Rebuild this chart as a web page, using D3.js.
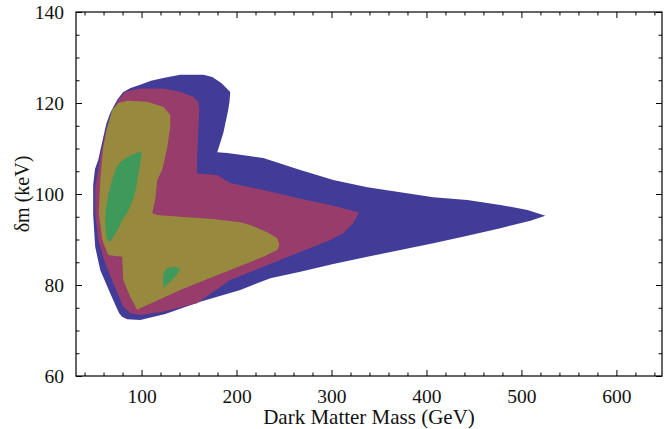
<!DOCTYPE html>
<html><head><meta charset="utf-8">
<script src="https://cdn.jsdelivr.net/npm/d3@7"></script>
<style>body{margin:0;background:#fff}svg{display:block}</style>
</head><body>
<svg id="c" width="664" height="429"></svg>
<script>
// Data (Dark Matter Mass in GeV, δm in keV)
const xDomain = [31, 648];
const yDomain = [60, 140];
const xMajorTicks = [100, 200, 300, 400, 500, 600];
const yMajorTicks = [60, 80, 100, 120, 140];

const blueRegion = [[80.7,122.4],[88.5,123.3],[98.6,124.0],[110.0,124.9],[122.9,125.5],[140.8,126.2],[165.0,126.2],[174.5,125.7],[184.0,124.4],[193.4,122.4],[192.6,120.3],[191.3,118.5],[186.1,113.4],[179.7,109.2],[190.3,109.0],[204.0,108.6],[228.2,107.9],[267.2,105.3],[301.9,103.1],[337.8,101.5],[372.5,100.4],[407.2,99.3],[443.1,98.7],[477.8,97.6],[506.3,96.5],[525.2,95.2],[509.4,94.1],[477.8,92.5],[443.1,90.8],[407.2,89.2],[372.5,87.7],[337.8,86.2],[301.9,84.6],[267.2,82.9],[235.6,81.5],[204.0,78.9],[161.8,76.3],[125.0,73.6],[98.6,72.3],[84.9,72.5],[79.5,73.0],[76.5,73.8],[72.0,75.8],[67.0,78.2],[56.5,83.3],[51.2,88.4],[49.1,95.4],[49.1,102.0],[51.0,105.5],[54.4,107.5],[59.7,112.5],[63.0,115.5],[67.0,117.8],[74.4,120.7]];

const magentaRegion = [[82.8,122.5],[98.6,123.2],[122.9,123.2],[140.8,122.5],[154.5,121.4],[159.7,120.3],[160.8,118.5],[160.0,114.8],[158.4,107.5],[158.4,104.5],[179.4,104.2],[193.4,102.4],[228.2,100.9],[264.0,99.1],[298.8,97.6],[328.3,96.0],[328.3,95.6],[323.0,93.6],[312.5,91.4],[298.8,89.9],[264.0,87.0],[228.2,84.0],[193.4,81.1],[158.4,76.0],[122.9,74.1],[98.6,73.4],[88.1,73.8],[80.7,75.2],[70.2,80.4],[61.8,84.8],[54.4,89.9],[51.2,95.8],[51.2,101.5],[56.5,108.1],[61.8,113.4],[69.1,117.8],[75.5,120.7]];

const oliveRegion = [[75.5,120.0],[85.0,120.5],[106.0,120.3],[122.9,119.2],[130.2,117.4],[130.2,114.7],[127.1,110.3],[121.8,105.3],[116.5,103.1],[114.4,98.7],[111.3,95.8],[116.5,95.4],[140.8,95.0],[175.5,94.5],[204.0,93.8],[214.5,93.2],[232.4,91.6],[243.0,90.3],[245.1,88.8],[243.0,87.7],[228.2,86.2],[211.3,84.8],[193.4,83.3],[175.5,81.8],[140.8,78.9],[98.6,74.9],[95.5,74.5],[88.1,77.4],[80.7,81.1],[79.7,86.2],[72.3,86.4],[64.9,86.6],[58.6,89.9],[54.9,95.8],[56.5,103.1],[59.7,110.3],[63.9,114.7],[69.1,118.5]];

const greenUpper = [[100.2,109.3],[94.4,109.0],[84.9,108.1],[77.6,107.0],[73.4,105.7],[69.1,103.1],[64.9,99.8],[62.3,96.5],[61.8,93.2],[62.8,90.8],[64.9,89.6],[68.1,89.7],[73.4,91.6],[78.6,93.8],[86.0,96.3],[91.3,98.9],[94.4,101.5],[97.1,104.8],[99.2,107.5]];

const greenLower = [[126.8,83.7],[135.5,84.0],[140.8,83.5],[135.5,81.8],[128.4,80.4],[123.2,79.3],[122.6,81.8],[124.0,82.9]];

const regions = [
  {pts: blueRegion, color: "#403c98"},
  {pts: magentaRegion, color: "#973c6b"},
  {pts: oliveRegion, color: "#97893d"},
  {pts: greenUpper, color: "#3d9a5a"},
  {pts: greenLower, color: "#3d9a5a"}
];

const L = 76, R = 662, T = 12, B = 376;
const svg = d3.select("#c");
const x = d3.scaleLinear().domain(xDomain).range([L, R]);
const y = d3.scaleLinear().domain(yDomain).range([B, T]);

const line = d3.line().x(d => x(d[0])).y(d => y(d[1])).curve(d3.curveLinearClosed);
svg.append("g").selectAll("path").data(regions).join("path")
  .attr("d", d => line(d.pts)).attr("fill", d => d.color).attr("stroke", "none");

const xMinor = d3.range(40, 648, 20).filter(v => !xMajorTicks.includes(v));
const yMinor = d3.range(65, 140, 5).filter(v => !yMajorTicks.includes(v));

const font = "'Liberation Serif', 'Times New Roman', serif";

function axisStyle(g){ g.select(".domain").remove(); g.selectAll("line").attr("stroke","#000"); }

// bottom
svg.append("g").attr("transform",`translate(0,${B})`)
  .call(d3.axisBottom(x).tickValues(xMajorTicks).tickSize(-6).tickPadding(13).tickFormat(d3.format("d")))
  .call(axisStyle).call(g=>g.selectAll("text").attr("font-family",font).attr("font-size",19.5).attr("fill","#111"));
svg.append("g").attr("transform",`translate(0,${B})`)
  .call(d3.axisBottom(x).tickValues(xMinor).tickSize(-3.5).tickFormat(""))
  .call(axisStyle);
// top
svg.append("g").attr("transform",`translate(0,${T})`)
  .call(d3.axisTop(x).tickValues(xMajorTicks).tickSize(-6).tickFormat(""))
  .call(axisStyle);
svg.append("g").attr("transform",`translate(0,${T})`)
  .call(d3.axisTop(x).tickValues(xMinor).tickSize(-3.5).tickFormat(""))
  .call(axisStyle);
// left
svg.append("g").attr("transform",`translate(${L},0)`)
  .call(d3.axisLeft(y).tickValues(yMajorTicks).tickSize(-6).tickPadding(12).tickFormat(d3.format("d")))
  .call(axisStyle).call(g=>g.selectAll("text").attr("font-family",font).attr("font-size",19.5).attr("fill","#111"));
svg.append("g").attr("transform",`translate(${L},0)`)
  .call(d3.axisLeft(y).tickValues(yMinor).tickSize(-3.5).tickFormat(""))
  .call(axisStyle);
// right
svg.append("g").attr("transform",`translate(${R},0)`)
  .call(d3.axisRight(y).tickValues(yMajorTicks).tickSize(-6).tickFormat(""))
  .call(axisStyle);
svg.append("g").attr("transform",`translate(${R},0)`)
  .call(d3.axisRight(y).tickValues(yMinor).tickSize(-3.5).tickFormat(""))
  .call(axisStyle);

// frame
svg.append("rect").attr("x",L).attr("y",T).attr("width",R-L).attr("height",B-T)
  .attr("fill","none").attr("stroke","#000").attr("stroke-width",1.2);

// titles
svg.append("text").attr("x",(L+R)/2).attr("y",424).attr("text-anchor","middle")
  .attr("font-family",font).attr("font-size",21).attr("fill","#111").text("Dark Matter Mass (GeV)");
svg.append("text").attr("transform",`translate(29,${(T+B)/2}) rotate(-90)`).attr("text-anchor","middle")
  .attr("font-family",font).attr("font-size",20).attr("fill","#111").text("δm (keV)");
</script>
</body></html>
